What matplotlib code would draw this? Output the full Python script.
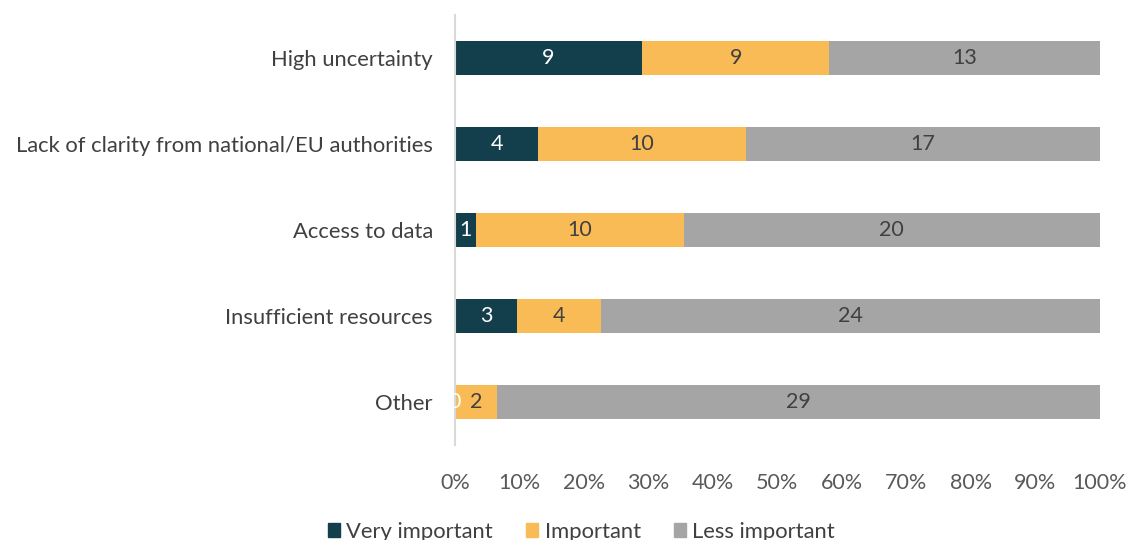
import numpy as np
import matplotlib
matplotlib.use("Agg")
import matplotlib.pyplot as plt
from matplotlib.patches import Patch

plt.rcParams["font.family"] = ["Lato", "DejaVu Sans"]

categories = ["High uncertainty", "Lack of clarity from national/EU authorities",
              "Access to data", "Insufficient resources", "Other"]
series = ["Very important", "Important", "Less important"]
very = [9, 4, 1, 3, 0]
important = [9, 10, 10, 4, 2]
less = [13, 17, 20, 24, 29]
colors = ["#133E4B", "#F8BB55", "#A5A5A5"]
text_colors = ["white", "#404040", "#404040"]

vals = np.array([very, important, less], dtype=float)
shares = vals / vals.sum(axis=0)

fig = plt.figure(figsize=(11.29, 5.4), dpi=100)
ax = fig.add_axes([0.403, 0.176, 0.571, 0.796])

y = np.arange(len(categories))
left = np.zeros(len(categories))
for i, name in enumerate(series):
    ax.barh(y, shares[i], left=left, height=0.4, color=colors[i], label=name)
    for j in range(len(categories)):
        ax.text(left[j] + shares[i][j] / 2, y[j], f"{int(vals[i][j])}",
                ha="center", va="center", fontsize=15.5, color=text_colors[i])
    left += shares[i]

ax.set_ylim(len(categories) - 0.5, -0.5)
ax.set_xlim(0, 1)
ax.set_yticks(y)
ax.set_yticklabels(categories, fontsize=15.8, color="#404040")
ax.set_xticks(np.linspace(0, 1, 11))
ax.set_xticklabels([f"{p}%" for p in range(0, 101, 10)], fontsize=15.5, color="#595959")
ax.tick_params(length=0, axis="y", pad=16)
ax.tick_params(length=0, axis="x", pad=20)
for s in ["top", "right", "bottom"]:
    ax.spines[s].set_visible(False)
ax.spines["left"].set_color("#D9D9D9")
ax.spines["left"].set_linewidth(1.5)

handles = [Patch(color=c) for c in colors]
fig.legend(handles, series, loc="lower center", bbox_to_anchor=(0.515, -0.04),
           ncol=3, frameon=False, fontsize=15.8, handlelength=0.55, handleheight=0.55,
           handletextpad=0.3, columnspacing=1.5, labelcolor="#404040")

fig.savefig("out.png", dpi=100)
